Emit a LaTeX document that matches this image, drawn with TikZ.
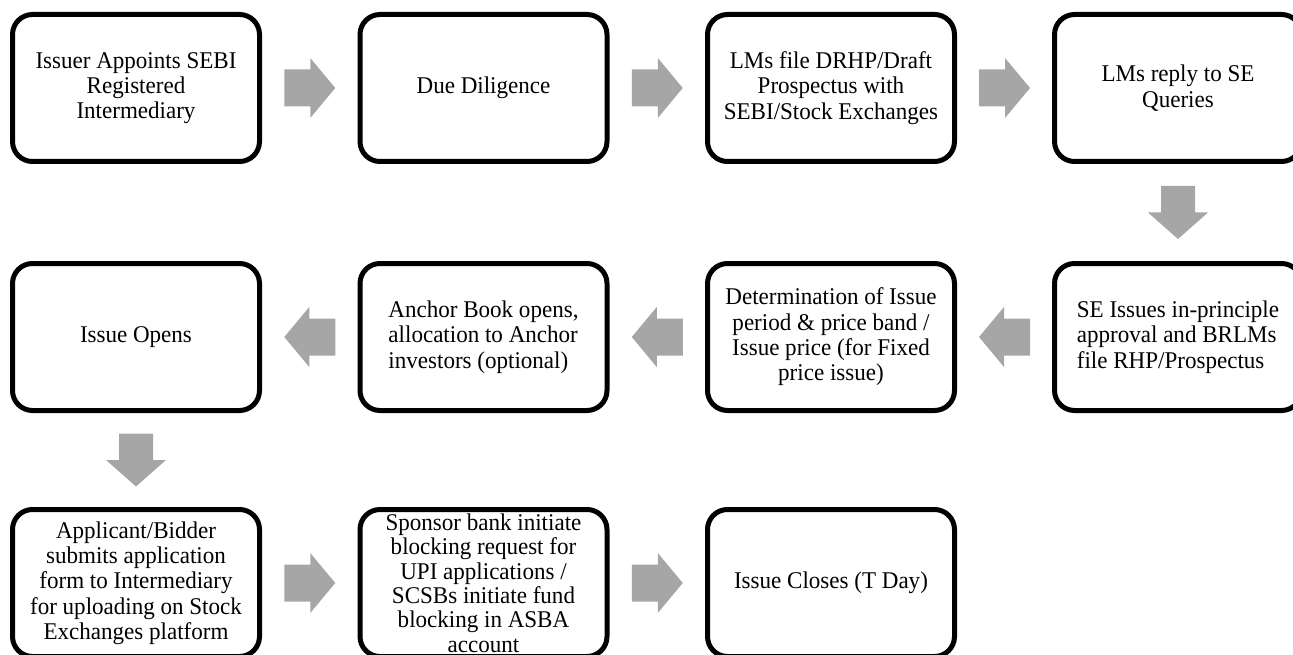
\documentclass[tikz,border=0pt]{standalone}
\usepackage{fontspec}
\setmainfont{Liberation Serif}[FakeStretch=0.96]
\usetikzlibrary{calc}
\definecolor{arrowgray}{HTML}{A6A6A6}
\newcommand\boxfont{\fontsize{24}{25.3}\selectfont}
\tikzset{
  stepbox/.style={draw=black, line width=5pt, rounded corners=20pt, fill=white,
    minimum width=247pt, minimum height=147pt, inner sep=0pt, align=center,
    font=\boxfont},
  hblock/.pic={\fill[arrowgray] (-25.5,-18.5) -- (0.5,-18.5) -- (0.5,-30) -- (25.5,0)
     -- (0.5,30) -- (0.5,18.5) -- (-25.5,18.5) -- cycle;},
  vblock/.pic={\fill[arrowgray] (-17,26.5) -- (17,26.5) -- (17,0) -- (30,0)
     -- (0,-26.5) -- (-30,0) -- (-17,0) -- cycle;}
}
\begin{document}
\begin{tikzpicture}[x=1pt,y=1pt]
\useasboundingbox (0,0) rectangle (1293,-655);
% row 1
\node[stepbox] (b1) at (136,-88) {Issuer Appoints SEBI\\Registered\\Intermediary};
\node[stepbox] (b2) at (483.5,-88) {Due Diligence};
\node[stepbox] (b3) at (831,-88) {LMs file DRHP/Draft\\Prospectus with\\SEBI/Stock Exchanges};
\node[stepbox] (b4) at (1178,-88) {LMs reply to SE\\Queries};
% row 2
\node[stepbox, align=left] (b5) at (1178,-337) {SE Issues in-principle\\approval and BRLMs\\file RHP/Prospectus};
\node[stepbox] (b6) at (831,-337) {Determination of Issue\\period \& price band /\\Issue price (for Fixed\\price issue)};
\node[stepbox, align=left] (b7) at (483.5,-337) {Anchor Book opens,\\allocation to Anchor\\investors (optional)};
\node[stepbox] (b8) at (136,-337) {Issue Opens};
% row 3
\node[stepbox] (b9) at (136,-583) {Applicant/Bidder\\submits application\\form to Intermediary\\for uploading on Stock\\Exchanges platform};
\node[stepbox, font=\fontsize{24}{24.4}\selectfont] (b10) at (483.5,-583) {Sponsor bank initiate\\blocking request for\\UPI applications /\\SCSBs initiate fund\\blocking in ASBA\\account};
\node[stepbox] (b11) at (831,-583) {Issue Closes (T Day)};
% block arrows
\pic at ($(b1.east)!0.5!(b2.west)$) {hblock};
\pic at ($(b2.east)!0.5!(b3.west)$) {hblock};
\pic at ($(b3.east)!0.5!(b4.west)$) {hblock};
\pic at ($(b4.south)!0.5!(b5.north)$) {vblock};
\pic[rotate=180] at ($(b5.west)!0.5!(b6.east)$) {hblock};
\pic[rotate=180] at ($(b6.west)!0.5!(b7.east)$) {hblock};
\pic[rotate=180] at ($(b7.west)!0.5!(b8.east)$) {hblock};
\pic at ($(b8.south)!0.5!(b9.north)$) {vblock};
\pic at ($(b9.east)!0.5!(b10.west)$) {hblock};
\pic at ($(b10.east)!0.5!(b11.west)$) {hblock};
\end{tikzpicture}
\end{document}
